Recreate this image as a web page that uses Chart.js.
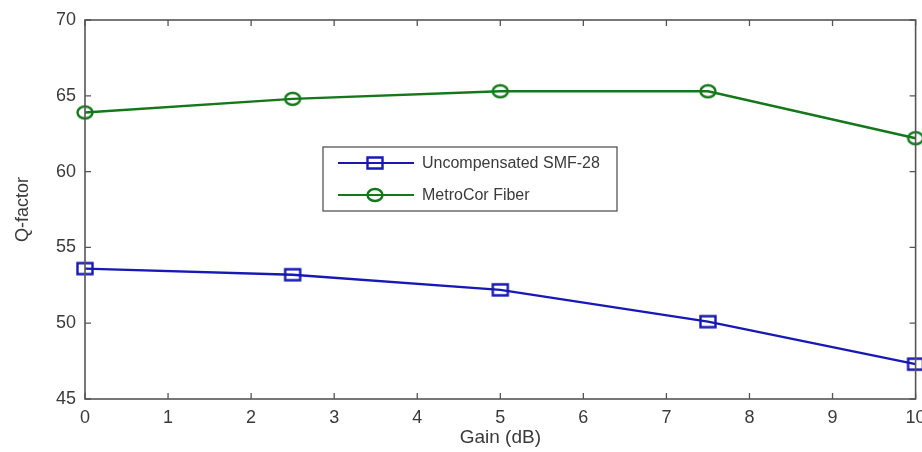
<!DOCTYPE html>
<html>
<head>
<meta charset="utf-8">
<script src="https://cdn.jsdelivr.net/npm/chart.js@4.4.0/dist/chart.umd.min.js"></script>
<style>
  html, body { margin: 0; padding: 0; background: #fff; overflow: hidden; }
  #wrap { position: relative; width: 926px; height: 452px; }
</style>
</head>
<body>
<div id="wrap"><canvas id="qChart"></canvas></div>
<script>
// données
const gainDb = [0, 2.5, 5, 7.5, 10];
const smf28Q = [53.6, 53.2, 52.2, 50.1, 47.3];
const metroCorQ = [63.9, 64.8, 65.3, 65.3, 62.2];
const xTicks = [0, 1, 2, 3, 4, 5, 6, 7, 8, 9, 10];
const yTicks = [45, 50, 55, 60, 65, 70];

const blue = '#1818b4';
const green = '#14781a';
const axisColor = '#555';
const textColor = '#3a3a3a';
const fontFamily = '"Liberation Sans", Arial, sans-serif';

// marqueurs un peu étirés en largeur, comme sur l'image d'origine
function makeMarker(kind, color) {
    const c = document.createElement('canvas');
    c.width = 20; c.height = 16;
    const g = c.getContext('2d');
    g.strokeStyle = color;
    g.lineWidth = 2.4;
    g.beginPath();
    if (kind === 'rect') {
        g.rect(2.5, 2.5, 15, 11);
    } else {
        g.ellipse(10, 8, 7.5, 6, 0, 0, Math.PI * 2);
    }
    g.stroke();
    return c;
}
const squareMarker = makeMarker('rect', blue);
const circleMarker = makeMarker('circle', green);

// cadre + graduations vers l'intérieur (style MATLAB)
const boxTicks = {
    id: 'boxTicks',
    afterDatasetsDraw(chart) {
        const { ctx, chartArea: a, scales: { x, y } } = chart;
        const len = 6;
        ctx.save();
        ctx.strokeStyle = axisColor;
        ctx.lineWidth = 1.6;
        ctx.strokeRect(a.left, a.top, a.right - a.left, a.bottom - a.top);
        ctx.lineWidth = 1.3;
        ctx.beginPath();
        xTicks.forEach(v => {
            const px = x.getPixelForValue(v);
            ctx.moveTo(px, a.bottom); ctx.lineTo(px, a.bottom - len);
            ctx.moveTo(px, a.top); ctx.lineTo(px, a.top + len);
        });
        yTicks.forEach(v => {
            const py = y.getPixelForValue(v);
            ctx.moveTo(a.left, py); ctx.lineTo(a.left + len, py);
            ctx.moveTo(a.right, py); ctx.lineTo(a.right - len, py);
        });
        ctx.stroke();
        ctx.restore();
    }
};

// légende encadrée au milieu du graphe
const boxLegend = {
    id: 'boxLegend',
    afterDraw(chart) {
        const ctx = chart.ctx;
        const left = 323, top = 147, w = 294, h = 64;
        ctx.save();
        ctx.fillStyle = '#fff';
        ctx.fillRect(left, top, w, h);
        ctx.strokeStyle = axisColor;
        ctx.lineWidth = 1.3;
        ctx.strokeRect(left, top, w, h);
        chart.data.datasets.forEach((ds, i) => {
            const cy = top + 16 + i * 32;
            ctx.strokeStyle = ds.borderColor;
            ctx.lineWidth = 2.2;
            ctx.beginPath();
            ctx.moveTo(338, cy); ctx.lineTo(414, cy);
            ctx.stroke();
            const m = ds.pointStyle;
            ctx.drawImage(m, 375 - m.width / 2, cy - m.height / 2);
            ctx.fillStyle = textColor;
            ctx.font = '16px ' + fontFamily;
            ctx.textBaseline = 'middle';
            ctx.fillText(ds.label, 422, cy + 1);
        });
        ctx.restore();
    }
};

new Chart(document.getElementById('qChart'), {
    type: 'line',
    data: {
        datasets: [{
            label: 'Uncompensated SMF-28',
            data: gainDb.map((g, i) => ({ x: g, y: smf28Q[i] })),
            borderColor: blue,
            backgroundColor: 'transparent',
            borderWidth: 2.4,
            pointStyle: squareMarker,
            pointRadius: 8,
            tension: 0
        }, {
            label: 'MetroCor Fiber',
            data: gainDb.map((g, i) => ({ x: g, y: metroCorQ[i] })),
            borderColor: green,
            backgroundColor: 'transparent',
            borderWidth: 2.4,
            pointStyle: circleMarker,
            pointRadius: 8,
            tension: 0
        }]
    },
    options: {
        responsive: true,
        maintainAspectRatio: false,
        animation: false,
        clip: false,
        layout: { padding: { top: 20, left: 0, right: 0, bottom: 0 } },
        plugins: {
            legend: { display: false },
            tooltip: { enabled: false }
        },
        scales: {
            x: {
                type: 'linear',
                min: 0,
                max: 10,
                afterBuildTicks: s => { s.ticks = xTicks.map(v => ({ value: v })); },
                afterFit: s => { s.height = 53; },
                grid: { display: false },
                border: { display: false },
                ticks: {
                    color: textColor,
                    padding: 0,
                    maxRotation: 0,
                    font: { size: 18, family: fontFamily }
                },
                title: {
                    display: true,
                    text: 'Gain (dB)',
                    color: textColor,
                    padding: { top: 0, bottom: 3 },
                    font: { size: 19, family: fontFamily }
                }
            },
            y: {
                type: 'linear',
                min: 45,
                max: 70,
                afterBuildTicks: s => { s.ticks = yTicks.map(v => ({ value: v })); },
                afterFit: s => { s.width = 85; },
                grid: { display: false },
                border: { display: false },
                ticks: {
                    color: textColor,
                    padding: 1,
                    font: { size: 18, family: fontFamily }
                },
                title: {
                    display: true,
                    text: 'Q-factor',
                    color: textColor,
                    padding: { top: 12, bottom: 0 },
                    font: { size: 18, family: fontFamily }
                }
            }
        }
    },
    plugins: [boxTicks, boxLegend]
});
</script>
</body>
</html>
